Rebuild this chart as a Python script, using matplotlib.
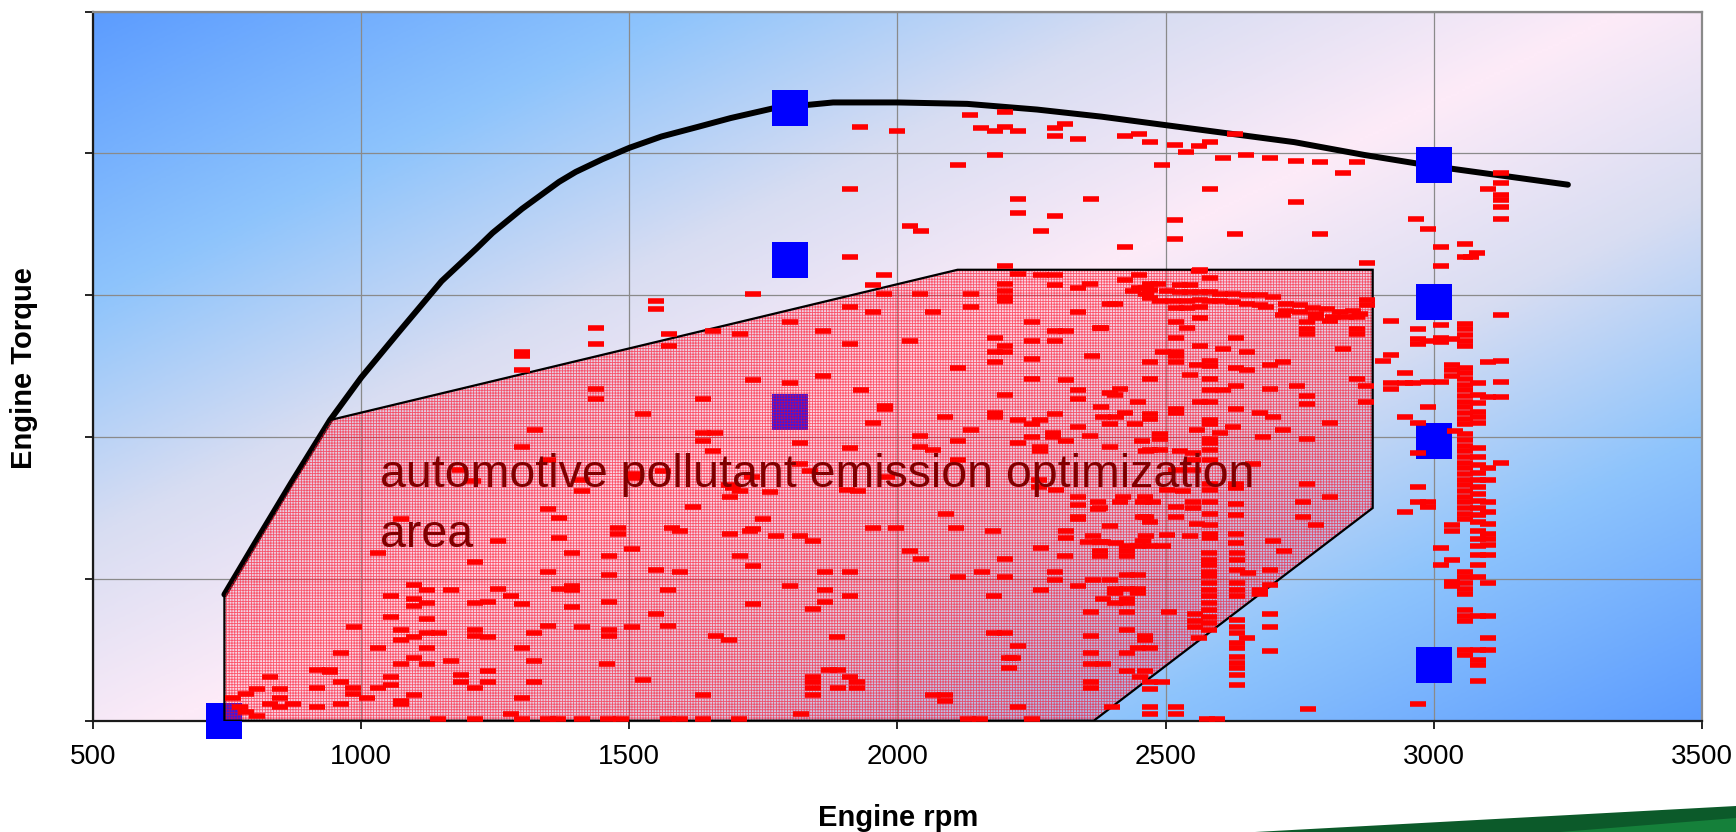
import numpy as np
import matplotlib
matplotlib.use("Agg")
import matplotlib.pyplot as plt
from matplotlib.colors import LinearSegmentedColormap
from matplotlib.patches import Polygon

plt.rcParams['font.family'] = ['Liberation Sans', 'DejaVu Sans']
plt.rcParams['hatch.linewidth'] = 0.6

# ----------------------------------------------------------------------------------
# Data (engine speed in rpm, torque in arbitrary units, 100 per grid line)

x_ticks = [500, 1000, 1500, 2000, 2500, 3000, 3500]
y_ticks = [0, 100, 200, 300, 400, 500]

# full load torque curve
curve_rpm = [745, 800, 870, 942, 1000, 1070, 1150, 1215, 1245, 1300, 1369, 1400, 1450,
             1500, 1560, 1630, 1689, 1770, 1880, 2000, 2130, 2260, 2380, 2500, 2620,
             2740, 2870, 3000, 3250]
curve_torque = [89, 124, 168, 212, 242, 274, 310, 333, 344, 361, 380, 387, 396,
                404, 412, 419, 425, 432, 436, 436, 435, 431, 426, 420, 414,
                408, 399, 391, 378]

# emission optimization area
zone_rpm = [745, 745, 942, 2112, 2886, 2886, 2366]
zone_torque = [0, 89, 212, 318, 318, 150, 0]

# test points (blue squares)
sq_rpm = [745, 1800, 1800, 1800, 3000, 3000, 3000, 3000]
sq_torque = [0, 432, 325, 218, 392, 295, 197, 39]

# measured operating points (red dashes)
dash_upper = [
    (1931, 419), (1999, 416), (2136, 427), (2200, 429), (2156, 418), (2181, 416), (2200, 419),
    (2224, 416), (2293, 418), (2313, 421), (2293, 412), (2337, 410), (2425, 412), (2450, 414),
    (2470, 408), (2518, 406), (2538, 401), (2562, 405), (2582, 408), (2630, 414), (2606, 397),
    (2649, 399), (2695, 397), (2743, 395), (2788, 394), (2856, 394), (2831, 386), (2181, 399),
    (2112, 392), (2494, 392), (1911, 375), (2224, 368), (2361, 368), (2582, 375), (2743, 366),
    (2224, 358), (2293, 356), (2024, 349), (2044, 345), (2268, 345), (2518, 353), (2518, 340),
    (2630, 343), (2788, 343), (2425, 334), (1911, 327), (2200, 321), (2876, 323), (1975, 314),
    (2224, 315), (2268, 314), (2293, 314), (2450, 314), (2562, 317), (2582, 312), (2425, 311),
    (1730, 301),
]

dash_3000 = [
    (2966, 354), (2989, 347), (3013, 334), (3013, 321), (3081, 330), (3070, 327), (3101, 375),
    (3058, 336), (3058, 327), (2921, 282), (2970, 276), (3013, 279), (2970, 269), (2970, 266),
    (2990, 268), (3013, 270), (3013, 267), (2921, 258), (2906, 254), (3101, 253), (2946, 245),
    (3101, 228), (2921, 238), (2921, 234), (2946, 238), (2961, 238), (2990, 239), (3013, 239),
    (2990, 221), (2946, 214), (2970, 210), (3039, 204), (2970, 189), (2970, 165), (2990, 154),
    (2970, 154), (2946, 147), (2990, 151), (3013, 122), (3013, 110), (3033, 113), (3033, 98),
    (3033, 95), (3083, 110), (3083, 101), (3083, 74), (3101, 74), (3101, 58), (3083, 50),
    (3101, 50), (3083, 43), (3083, 39), (3083, 28), (2970, 12),
]

col_3033 = [269, 251, 247, 243, 138, 134]
col_3058 = [280, 276, 272, 268, 264, 249, 245, 241, 237, 233, 229, 225, 221, 217, 213, 209,
            202, 198, 194, 190, 186, 182, 178, 174, 170, 166, 162, 158, 154, 150, 146, 142,
            105, 101, 97, 93, 89, 78, 74, 70, 50, 46]
col_3083 = [238, 230, 224, 218, 214, 210, 192, 186, 180, 175, 170, 165, 160, 155, 150, 145,
            140, 134, 128, 123, 117]
col_3101 = [178, 170, 154, 147, 139, 132, 128, 124, 117, 97]
col_3126 = [386, 379, 371, 367, 362, 354, 286, 254, 239, 228, 182]
col_2580 = [118, 113, 110, 105, 102, 97, 92, 88, 83, 78, 73, 69, 64]
col_2633 = [118, 113, 106, 97, 92, 88, 71, 66, 62, 55, 51, 45, 41, 37, 32, 25]

dash_ridge = [
    (2564, 318), (2471, 308), (2486, 308), (2527, 307), (2545, 307), (2451, 305), (2471, 304),
    (2502, 303), (2527, 302), (2545, 302), (2564, 302), (2582, 302), (2601, 301), (2626, 301),
    (2651, 300), (2676, 300), (2700, 299), (2471, 298), (2489, 296), (2514, 296), (2539, 296),
    (2564, 297), (2582, 296), (2601, 296), (2626, 295), (2651, 294), (2676, 293), (2688, 292),
    (2725, 294), (2750, 293), (2775, 291), (2800, 290), (2825, 288), (2850, 289), (2875, 293),
    (2875, 297), (2725, 289), (2750, 288), (2781, 287), (2812, 285), (2837, 285), (2862, 287),
    (2396, 294), (2520, 291), (2539, 291), (2564, 292), (2719, 286), (2781, 284), (2806, 282),
    (2856, 285), (2856, 276), (2856, 273), (2763, 281), (2763, 276), (2763, 273), (2520, 281),
    (2539, 277), (2377, 277), (2564, 284), (2632, 270), (2520, 270), (2564, 264), (2831, 262),
    (2495, 260), (2520, 260), (2651, 260), (2607, 262), (2520, 257), (2520, 253), (2471, 253),
    (2582, 254), (2558, 251), (2582, 250), (2632, 249), (2651, 247), (2694, 251), (2719, 253),
    (2471, 241), (2582, 241), (2545, 244), (2856, 241), (2632, 236), (2694, 234), (2744, 236),
    (2874, 236), (2763, 229), (2874, 225), (2415, 234), (2396, 231), (2582, 233), (2607, 233),
    (2763, 223), (2449, 225), (2564, 225), (2582, 225), (2632, 220), (2676, 217), (2700, 214),
    (2424, 217), (2471, 216), (2471, 213), (2520, 220), (2520, 217), (2582, 212), (2582, 209),
    (2806, 210), (2626, 207), (2396, 209), (2443, 209), (2558, 205), (2601, 203), (2489, 202),
    (2489, 199), (2719, 205), (2582, 199), (2582, 196), (2763, 199), (2489, 191), (2471, 191),
    (2527, 190), (2551, 189), (2582, 191), (2663, 181), (2551, 184), (2582, 184), (2682, 200),
    (2763, 167), (2520, 177), (2551, 177), (2582, 167), (2582, 163), (2632, 167), (2632, 164),
    (2502, 163), (2533, 162), (2806, 158), (2458, 154), (2477, 154), (2551, 154), (2582, 154),
    (2632, 153), (2756, 154), (2520, 151), (2551, 150), (2582, 146), (2632, 145), (2520, 144),
    (2415, 154), (2377, 150), (2458, 144), (2471, 140), (2558, 139), (2582, 138), (2756, 144),
    (2781, 138), (2396, 137), (2632, 132), (2502, 131), (2545, 130), (2582, 132), (2582, 129),
    (2632, 125), (2700, 127), (2458, 127), (2471, 123),
]

dash_middle = [
    (1955, 307), (1975, 301), (2042, 301), (2137, 301), (2293, 307), (2359, 308), (2337, 305),
    (2200, 308), (2200, 303), (2200, 299), (2200, 296), (1911, 292), (1955, 288), (2067, 288),
    (2137, 292), (2337, 288), (2405, 294), (2464, 305), (2464, 301), (2439, 303), (1799, 281),
    (1862, 275), (1706, 273), (1656, 275), (2250, 281), (2293, 275), (2315, 275), (2380, 277),
    (2023, 268), (1911, 266), (2181, 270), (2200, 264), (2200, 260), (2181, 260), (2181, 253),
    (2250, 268), (2293, 268), (2250, 255), (2362, 257), (2113, 249), (2250, 241), (2314, 240),
    (1731, 240), (1799, 238), (1862, 243), (1932, 233), (1976, 222), (1976, 220), (1955, 210),
    (2088, 214), (2200, 230), (2181, 217), (2181, 214), (2225, 212), (2250, 209), (2265, 212),
    (2293, 216), (2337, 233), (2337, 227), (2380, 221), (2405, 230), (2383, 214), (2408, 214),
    (2337, 207), (1818, 196), (1911, 192), (2137, 205), (2225, 196), (2265, 193), (2265, 190),
    (2290, 203), (2290, 200), (2314, 197), (2359, 201), (2042, 201), (2042, 193), (2067, 191),
    (2113, 197), (2113, 184), (2250, 200), (2396, 193), (2455, 197), (2464, 190), (1818, 181),
    (1837, 176), (1694, 164), (1688, 158), (1762, 161), (1905, 163), (1926, 162), (1980, 172),
    (2090, 146), (2264, 170), (2264, 165), (2296, 163), (2337, 158), (2337, 152), (2374, 154),
    (2374, 149), (2420, 158), (2461, 158), (1688, 132), (1725, 134), (1774, 130), (1818, 130),
    (1843, 127), (1750, 142), (1955, 136), (1998, 136), (2110, 136), (2178, 134), (2315, 134),
    (2315, 129), (2365, 130), (2377, 126), (2408, 125), (2337, 144), (2337, 142), (2464, 144),
    (2464, 130), (1685, 166), (1706, 162), (1728, 172), (1731, 135), (1706, 116), (1731, 109),
]

dash_left = [
    (1550, 296), (1550, 290), (1437, 277), (1437, 266), (1300, 260), (1300, 257), (1300, 247),
    (1574, 273), (1574, 264), (1437, 234), (1437, 227), (1638, 227), (1525, 216), (1324, 205),
    (1300, 193), (1638, 203), (1660, 203), (1638, 197), (1656, 190), (1349, 184), (1184, 177),
    (1209, 169), (1411, 170), (1411, 162), (1507, 174), (1507, 171), (1563, 176), (1349, 149),
    (1368, 143), (1075, 142), (1368, 129), (1256, 127), (1479, 136), (1479, 132), (1579, 136),
    (1594, 134), (1618, 151), (1393, 118), (1505, 121), (1462, 116), (1031, 118), (1212, 112),
    (1349, 105), (1462, 103), (1550, 106), (1594, 105),
]

dash_lower = [
    (2024, 120), (2044, 114), (2268, 122), (2312, 116), (2201, 114), (2356, 126), (2383, 126),
    (2378, 120), (2378, 116), (2427, 123), (2427, 120), (2427, 116), (2449, 123), (2495, 123),
    (1864, 105), (1912, 105), (2112, 101), (2157, 105), (2201, 101), (2293, 105), (2293, 99),
    (2337, 95), (2365, 99), (2396, 99), (2427, 103), (2449, 103), (1255, 93), (1280, 88),
    (1300, 82), (1369, 93), (1393, 95), (1393, 92), (1237, 84), (1393, 80), (1462, 84),
    (1573, 92), (1550, 75), (1573, 67), (1730, 82), (1799, 95), (1864, 92), (1864, 84),
    (1912, 88), (1843, 79), (2180, 88), (2268, 92), (2405, 93), (2427, 93), (2449, 93),
    (2405, 90), (2449, 90), (2383, 86), (2427, 86), (2405, 83), (2427, 83), (2361, 77),
    (2427, 77), (1349, 67), (1323, 62), (1412, 66), (1462, 64), (1462, 60), (1505, 66),
    (1661, 60), (1686, 57), (1887, 59), (1237, 59), (1299, 51), (2180, 62), (2201, 62),
    (2224, 53), (2361, 60), (2427, 64), (2462, 60), (2462, 57), (2449, 51), (2471, 51),
    (2427, 48), (2361, 48), (2506, 77), (2554, 75), (2554, 70), (2554, 66), (2563, 58),
    (2207, 44), (2216, 44), (2207, 37), (2361, 40), (2383, 40), (2427, 35), (2462, 35),
    (2453, 31), (2471, 27), (2493, 27), (2471, 22), (2361, 27), (2361, 23), (1459, 40),
    (1323, 42), (1237, 35), (1237, 27), (1323, 27), (1525, 29), (1872, 36), (1890, 36),
    (1843, 31), (1843, 27), (1843, 23), (1912, 31), (1925, 27), (1890, 23), (1925, 23),
    (1843, 18), (2066, 18), (2088, 18), (2088, 14), (1299, 16), (1638, 18), (2224, 10),
    (2400, 10), (2471, 10), (2519, 10), (2471, 5), (2519, 5), (1280, 5), (1820, 5),
    (2653, 104), (2675, 92), (2675, 89), (2694, 106), (2694, 96), (2720, 120), (2652, 58),
    (2694, 75), (2694, 66), (2694, 49), (2765, 8),
]

dash_corner = [
    (1099, 96), (1122, 92), (1167, 92), (1055, 88), (1099, 86), (1122, 83), (1099, 81),
    (1212, 83), (1055, 73), (1122, 72), (987, 66), (1075, 64), (1075, 57), (1122, 62),
    (1146, 62), (1099, 59), (1212, 64), (1212, 60), (1031, 51), (1122, 51), (962, 48),
    (1075, 40), (1099, 44), (1122, 40), (1167, 42), (917, 36), (942, 36), (942, 34),
    (830, 31), (1055, 31), (1187, 32), (1187, 27), (962, 27), (985, 23), (917, 23),
    (1031, 23), (1055, 25), (1099, 18), (1212, 23), (805, 22), (848, 22), (985, 19),
    (848, 16), (830, 12), (848, 10), (873, 12), (761, 16), (786, 19), (1010, 16),
    (1075, 14), (1075, 12), (962, 12), (917, 10), (774, 10), (786, 6), (805, 3),
]

# points sitting on the rpm axis
dash_floor_rpm = [1144, 1212, 1299, 1349, 1367, 1412, 1461, 1485, 1573, 1594, 1638, 1705,
                  2132, 2154, 2251, 2577, 2596]

label_line1 = "automotive pollutant emission optimization"
label_line2 = "area"

# ----------------------------------------------------------------------------------

pairs = np.array(dash_upper + dash_3000 + dash_ridge + dash_middle + dash_left
                 + dash_lower + dash_corner, dtype=float)
cols = [(3033, col_3033), (3058, col_3058), (3083, col_3083), (3101, col_3101),
        (3126, col_3126), (2580, col_2580), (2633, col_2633)]
dash_rpm = list(pairs[:, 0]) + [r for r, c in cols for _ in c] + dash_floor_rpm
dash_torque = list(pairs[:, 1]) + [t for r, c in cols for t in c] + [1] * len(dash_floor_rpm)

fig = plt.figure(figsize=(17.36, 8.32), dpi=100)
ax = fig.add_axes([0.05357, 0.13378, 0.92684, 0.85216])

# diagonal blue / pink / blue background
u, v = np.meshgrid(np.linspace(0, 1, 600), np.linspace(0, 1, 300))
t = np.clip(np.abs(u - 0.9 * v - 0.05) / 0.95, 0, 1)
bg = LinearSegmentedColormap.from_list(
    "bg", [(0, "#FDEBF8"), (0.3, "#D8DDF2"), (0.62, "#8EC4FC"), (1, "#5C9CFF")])
ax.imshow(t, cmap=bg, extent=(500, 3500, 0, 500), origin="lower",
          aspect="auto", interpolation="bilinear", zorder=0)

ax.plot(curve_rpm, curve_torque, color="black", lw=4.3,
        solid_capstyle="round", solid_joinstyle="round", zorder=2)

ax.plot(sq_rpm, sq_torque, ls="none", marker="s", ms=26.5,
        color="#0000FF", mew=0, zorder=3, clip_on=False)

zone = list(zip(zone_rpm, zone_torque))
ax.add_patch(Polygon(zone, closed=True, facecolor=(1.0, 0.55, 0.65, 0.2),
                     edgecolor=(1.0, 0.0, 0.1, 0.6), hatch="++++++", lw=0, zorder=4))
ax.add_patch(Polygon(zone, closed=True, fill=False, edgecolor="black", lw=1.6, zorder=5))

ax.plot(dash_rpm, dash_torque, ls="none", marker="_", ms=11, mew=4,
        color="#FF0000", zorder=6)

ax.text(1036, 164.6, label_line1, fontsize=33.5, color="#800000", zorder=7)
ax.text(1036, 122.3, label_line2, fontsize=33.5, color="#800000", zorder=7)

ax.set_xlim(500, 3500)
ax.set_ylim(0, 500)
ax.set_xticks(x_ticks)
ax.set_yticks(y_ticks)
ax.set_yticklabels([])
ax.set_axisbelow(True)
ax.grid(True, color="#8a8a8a", lw=0.9)
ax.tick_params(axis="both", direction="out", length=6, width=1.2, labelsize=20, pad=11)

for side in ["left", "bottom"]:
    ax.spines[side].set_color("#1a1a1a")
    ax.spines[side].set_linewidth(1.6)
for side in ["top", "right"]:
    ax.spines[side].set_color("#8a8a8a")
    ax.spines[side].set_linewidth(1.6)

fig.text(0.5173, 1 - 818 / 832, "Engine rpm", ha="center", va="center",
         fontsize=21, fontweight="bold")
fig.text(24 / 1736, 1 - 368 / 832, "Engine Torque", ha="center", va="center",
         rotation=90, fontsize=21, fontweight="bold")

# green swoosh in the lower right corner
fig.add_artist(Polygon([[1255 / 1736, 0], [1, 26 / 832], [1, 0]], closed=True,
                       transform=fig.transFigure, facecolor="#0c5a2a", edgecolor="none"))
fig.add_artist(Polygon([[1560 / 1736, 0], [1, 14 / 832], [1, 0]], closed=True,
                       transform=fig.transFigure, facecolor="#15803a", edgecolor="none"))

fig.savefig("out.png", dpi=100)
